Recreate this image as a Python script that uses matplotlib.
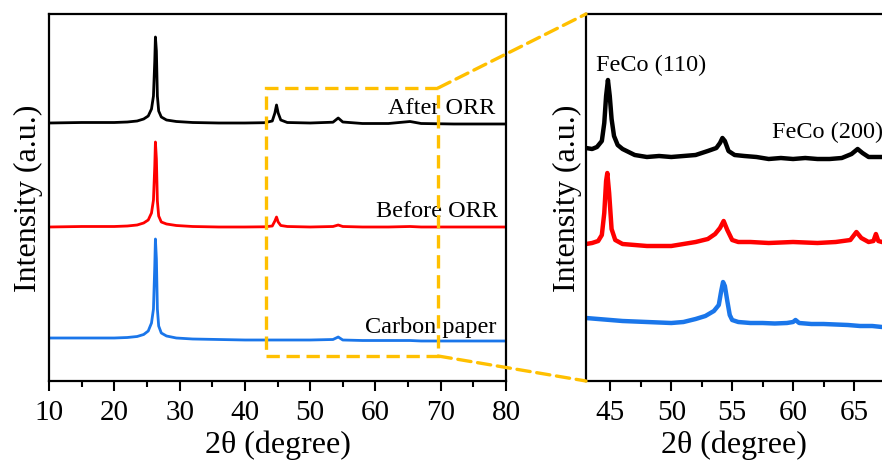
import matplotlib
matplotlib.use("Agg")
import matplotlib.pyplot as plt
from matplotlib.patches import Rectangle, ConnectionPatch
from matplotlib.ticker import MultipleLocator

plt.rcParams['font.family'] = ['Liberation Serif', 'DejaVu Serif']

# ---- full-range XRD patterns (stacked, arbitrary units) ----
x_full = [10, 15, 20, 22, 23.5, 24.5, 25.2, 25.7, 26.0, 26.2, 26.3, 26.45, 26.6, 26.8, 27.2, 28,
          29.5, 32, 36, 40, 43, 44.2, 44.6, 44.85, 45.1, 45.5, 46.5, 50, 53.5, 54.3, 55, 58,
          62, 65.3, 67, 72, 76, 80]
after_full = [258, 258.5, 258.5, 259, 260, 262, 265, 272, 285, 320, 344, 330, 285, 270, 264, 261,
              259.5, 258.5, 258, 258, 258.3, 260, 268, 276, 268, 261, 258.5, 258, 258.8, 263, 259, 257.5,
              257.5, 259.5, 257.5, 257, 257, 257]
before_full = [154, 154.5, 154.5, 155, 156, 158, 161, 168, 181, 215, 239, 222, 180, 165, 159, 157,
               155.5, 154.5, 154, 154, 154.2, 155, 160, 164, 159, 155.5, 154.5, 154, 154.5, 156, 154.5, 154,
               154, 154.5, 154, 154, 154, 154]
carbon_full = [43, 43, 43, 43.5, 44.5, 46.5, 50, 58, 72, 115, 142, 122, 72, 55, 48, 45,
               43, 42, 41.5, 41, 41, 41, 41, 41, 41, 41, 41, 41, 41.5, 44, 41, 40.5,
               40.5, 40.5, 40, 40, 40, 40]

# ---- zoomed region 43-67 degree ----
x_after = [43.0, 43.5, 43.9, 44.3, 44.5, 44.65, 44.8, 44.95, 45.1, 45.3, 45.6, 46.0, 47.0, 48.0,
           49.0, 50.0, 51.0, 52.0, 53.0, 53.7, 54.0, 54.2, 54.4, 54.7, 55.2, 56.0, 57.0, 58.0,
           59.0, 60.0, 61.0, 62.0, 63.0, 64.0, 64.8, 65.3, 65.7, 66.2, 67.3]
y_after = [233, 232, 234, 240, 258, 285, 301, 285, 262, 245, 236, 232, 226, 224,
           225, 224, 225, 226, 230, 233, 238, 243, 240, 230, 226, 225, 224, 222,
           223, 222, 223, 222, 222, 223, 227, 232, 228, 224, 224]

x_before = [43.0, 43.5, 44.0, 44.3, 44.5, 44.65, 44.75, 44.9, 45.1, 45.4, 46.0, 47.0, 48.0, 49.0,
            50.0, 51.0, 52.0, 53.0, 53.6, 54.0, 54.3, 54.6, 55.0, 55.5, 56.5, 58.0, 60.0, 62.0,
            63.5, 64.7, 65.2, 65.6, 66.2, 66.6, 66.8, 67.0, 67.3]
y_before = [137, 138, 140, 146, 168, 200, 208, 188, 152, 141, 137, 136, 135, 135,
            135, 137, 139, 142, 147, 153, 160, 151, 141, 139, 139, 138, 139, 138,
            139, 141, 149, 143, 139, 140, 147, 140, 139]

x_carbon = [43.0, 44.0, 45.0, 46.0, 47.0, 48.0, 49.0, 50.0, 51.0, 52.0, 52.8, 53.5, 53.9, 54.1,
            54.25, 54.4, 54.6, 54.8, 55.0, 55.5, 56.5, 57.5, 58.5, 59.5, 60.0, 60.2, 60.5, 61.5,
            62.5, 63.5, 64.5, 65.5, 66.5, 67.3]
y_carbon = [63, 62, 61, 60, 59.5, 59, 58.5, 58, 59, 62, 65, 70, 76, 90,
            99, 95, 80, 66, 61, 59, 58, 58, 57.5, 58, 59, 61, 58, 57,
            57, 56.5, 56, 55, 55, 54]

labels = ['After ORR', 'Before ORR', 'Carbon paper']
colors = ['black', '#ff0000', '#1a76ea']
gold = '#ffc000'

fig = plt.figure(figsize=(8.82, 4.64), dpi=100)
ax1 = fig.add_axes([49/882, 82/464, 457/882, 367/464])
ax2 = fig.add_axes([586/882, 82/464, 296/882, 367/464])

for y, c in zip([after_full, before_full, carbon_full], colors):
    ax1.plot(x_full, y, color=c, lw=2.0)
for xx, y, c in zip([x_after, x_before, x_carbon], [y_after, y_before, y_carbon], colors):
    ax2.plot(xx, y, color=c, lw=3.2)

# sample names
ax1.text(78.4, 268, labels[0], ha='right', va='baseline', fontsize=17.5)
ax1.text(78.8, 165, labels[1], ha='right', va='baseline', fontsize=17.5)
ax1.text(78.6, 49, labels[2], ha='right', va='baseline', fontsize=17.5)
ax2.text(43.8, 311, 'FeCo (110)', ha='left', va='baseline', fontsize=17.5)
ax2.text(58.25, 244, 'FeCo (200)', ha='left', va='baseline', fontsize=17.5, clip_on=False)

ax1.set_xlim(10, 80)
ax1.set_ylim(0, 367)
ax2.set_xlim(43, 67.3)
ax2.set_ylim(0, 367)
ax1.xaxis.set_major_locator(MultipleLocator(10))
ax1.xaxis.set_minor_locator(MultipleLocator(5))
ax2.xaxis.set_major_locator(MultipleLocator(5))
ax2.xaxis.set_minor_locator(MultipleLocator(2.5))

for ax in (ax1, ax2):
    ax.set_yticks([])
    ax.tick_params(axis='x', which='major', direction='out', length=7, width=1.5, labelsize=21, pad=6)
    ax.tick_params(axis='x', which='minor', direction='out', length=4, width=1.5)
    for s in ax.spines.values():
        s.set_linewidth(1.6)
    ax.set_xlabel('2\u03b8 (degree)', fontsize=23, labelpad=3)
ax1.set_ylabel('Intensity (a.u.)', fontsize=23, labelpad=4)
ax2.set_ylabel('Intensity (a.u.)', fontsize=23, labelpad=3)
ax2.spines['right'].set_visible(False)

# zoom box and connectors
rect = Rectangle((43.2, 25), 69.6 - 43.2, 293 - 25, fill=False, edgecolor=gold, lw=2.4,
                 linestyle=(0, (4, 2)), zorder=5)
ax1.add_patch(rect)
for yb, ya in [(293, 367), (25, 0)]:
    con = ConnectionPatch(xyA=(69.6, yb), coordsA=ax1.transData, xyB=(43, ya), coordsB=ax2.transData,
                          color=gold, lw=2.4, linestyle=(0, (4, 2)), zorder=5)
    fig.add_artist(con)

fig.savefig('out.png', dpi=100)
